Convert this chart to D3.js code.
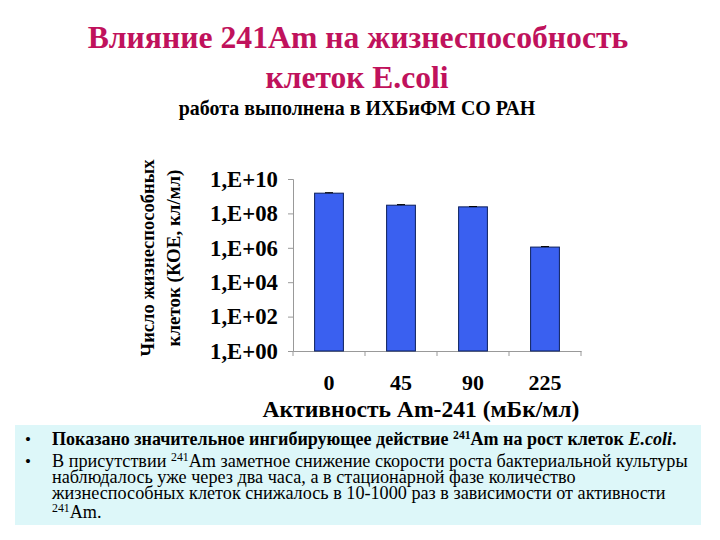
<!DOCTYPE html>
<html>
<head>
<meta charset="utf-8">
<script src="https://cdn.jsdelivr.net/npm/d3@7"></script>
<style>
  svg text, svg tspan { font-family: "Times New Roman", "Liberation Serif", Times, serif !important; }
</style>
</head>
<body style="margin:0">
<div id="chart"></div>
<script>
// data
var categories = ["0", "45", "90", "225"];
var cellCounts = [1.5e9, 3.0e8, 2.4e8, 1.1e6];
var errorBars = [0.1e9, 0.25e8, 0.1e8, 0.08e6];
var tickValues = [1e0, 1e2, 1e4, 1e6, 1e8, 1e10];
var tickLabels = ["1,E+00", "1,E+02", "1,E+04", "1,E+06", "1,E+08", "1,E+10"];

var FONT = "Times New Roman";
var width = 720, height = 540;
var svg = d3.select("#chart").append("svg")
    .attr("width", width)
    .attr("height", height);

// scale the font of a text so that it takes the wanted width
function fit(sel, target) {
    let size = parseFloat(sel.style("font-size"));
    let w = sel.node().getComputedTextLength();
    let s = size * target / w;
    sel.style("font-size", s + "px");
    return s;
}

function addText(xp, yp, txt, size, bold) {
    return svg.append("text")
        .attr("x", xp).attr("y", yp)
        .style("font-family", FONT)
        .style("font-size", size + "px")
        .style("font-weight", bold ? "bold" : "normal")
        .text(txt);
}

// title
let t1 = addText(358, 48, "Влияние 241Am на жизнеспособность", 30, true)
    .attr("text-anchor", "middle").attr("fill", "#c0125c");
fit(t1, 541);
let t2 = addText(357, 88, "клеток E.coli", 30, true)
    .attr("text-anchor", "middle").attr("fill", "#c0125c");
fit(t2, 183);
let t3 = addText(357, 115, "работа выполнена в ИХБиФМ СО РАН", 17, true)
    .attr("text-anchor", "middle");
fit(t3, 357);

// plot area
let margin = { left: 293, top: 179, right: 581, bottom: 351 };

let x = d3.scaleBand()
    .domain(categories)
    .range([margin.left, margin.right])
    .paddingInner(0.6)
    .paddingOuter(0.3);

let y = d3.scaleLog()
    .domain([1, 1e10])
    .range([margin.bottom, margin.top]);

// y axis
let yAxis = d3.axisLeft(y)
    .tickValues(tickValues)
    .tickFormat(function (d, i) { return tickLabels[i]; })
    .tickSize(5)
    .tickPadding(10);
let gy = svg.append("g")
    .attr("transform", "translate(" + margin.left + ",0)")
    .call(yAxis)
    .attr("font-family", null);
gy.select(".domain").attr("stroke", "#999");
gy.selectAll(".tick line").attr("stroke", "#999");
gy.selectAll(".tick text")
    .style("font-family", FONT)
    .style("font-size", "21px")
    .style("font-weight", "bold")
    .attr("fill", "#000");
let tickSize = fit(gy.select(".tick:last-of-type text"), 68);
gy.selectAll(".tick text").style("font-size", tickSize + "px");

// x axis: ticks between categories
let xAxis = d3.axisBottom(x).tickSize(0);
let gx = svg.append("g")
    .attr("transform", "translate(0," + margin.bottom + ")")
    .call(xAxis)
    .attr("font-family", null);
gx.select(".domain").attr("stroke", "#999");
gx.selectAll(".tick text")
    .attr("y", 39).attr("dy", null)
    .style("font-family", FONT)
    .style("font-size", "22px")
    .style("font-weight", "bold")
    .attr("fill", "#000");
let catSize = fit(gx.select(".tick:last-of-type text"), 33);
gx.selectAll(".tick text").style("font-size", catSize + "px");
let step = x.step();
gx.selectAll(".sep")
    .data(d3.range(categories.length + 1))
    .enter()
    .append("line")
    .attr("class", "sep")
    .attr("x1", function (d) { return margin.left + d * step; })
    .attr("x2", function (d) { return margin.left + d * step; })
    .attr("y1", 0).attr("y2", 5)
    .attr("stroke", "#999");

// bars
svg.selectAll(".bar")
    .data(cellCounts)
    .enter()
    .append("rect")
    .attr("class", "bar")
    .attr("x", function (d, i) { return x(categories[i]); })
    .attr("y", function (d) { return y(d); })
    .attr("width", x.bandwidth())
    .attr("height", function (d) { return y(1) - y(d); })
    .attr("fill", "#3a60f0")
    .attr("stroke", "#0b1f5c")
    .attr("stroke-width", 1);

// error bars (upper half)
let eb = svg.selectAll(".err")
    .data(cellCounts)
    .enter()
    .append("g")
    .attr("class", "err");
eb.append("line")
    .attr("x1", function (d, i) { return x(categories[i]) + x.bandwidth() / 2; })
    .attr("x2", function (d, i) { return x(categories[i]) + x.bandwidth() / 2; })
    .attr("y1", function (d) { return y(d); })
    .attr("y2", function (d, i) { return y(d + errorBars[i]); })
    .attr("stroke", "#000");
eb.append("line")
    .attr("x1", function (d, i) { return x(categories[i]) + x.bandwidth() / 2 - 4; })
    .attr("x2", function (d, i) { return x(categories[i]) + x.bandwidth() / 2 + 4; })
    .attr("y1", function (d, i) { return y(d + errorBars[i]); })
    .attr("y2", function (d, i) { return y(d + errorBars[i]); })
    .attr("stroke", "#000");

// axis titles
let xt = addText(421, 417, "Активность Am-241 (мБк/мл)", 21, true)
    .attr("text-anchor", "middle");
fit(xt, 317);
let yt1 = addText(0, 0, "Число жизнеспособных", 20, true)
    .attr("transform", "translate(154,258) rotate(-90)")
    .attr("text-anchor", "middle");
fit(yt1, 197);
let yt2 = addText(0, 0, "клеток (КОЕ, кл/мл)", 20, true)
    .attr("transform", "translate(180,258) rotate(-90)")
    .attr("text-anchor", "middle");
fit(yt2, 177);

// notes box
svg.append("rect")
    .attr("x", 15).attr("y", 425)
    .attr("width", 686).attr("height", 100)
    .attr("fill", "#ddf7f9");

addText(25, 445, "•", 17, false);
addText(25, 467, "•", 17, false);

let l1 = addText(52, 445, "", 17, true);
l1.append("tspan").text("Показано значительное ингибирующее действие ");
l1.append("tspan").attr("dy", -6).style("font-size", "0.65em").text("241");
l1.append("tspan").attr("dy", 6).text("Am на рост клеток ");
l1.append("tspan").style("font-style", "italic").text("E.coli");
l1.append("tspan").text(".");
fit(l1, 625);

let l2 = addText(52, 467, "", 17, false);
l2.append("tspan").text(" В присутствии ");
l2.append("tspan").attr("dy", -6).style("font-size", "0.65em").text("241");
l2.append("tspan").attr("dy", 6).text("Am заметное снижение скорости роста бактериальной культуры");
let noteSize = fit(l2, 636);

addText(52, 483, "наблюдалось уже через два часа, а в стационарной фазе количество", noteSize, false);
addText(52, 499, "жизнеспособных клеток снижалось в 10-1000 раз в зависимости от активности", noteSize, false);
let l5 = addText(52, 518, "", noteSize, false);
l5.append("tspan").attr("dy", -6).style("font-size", "0.65em").text("241");
l5.append("tspan").attr("dy", 6).text("Am.");
</script>
</body>
</html>
